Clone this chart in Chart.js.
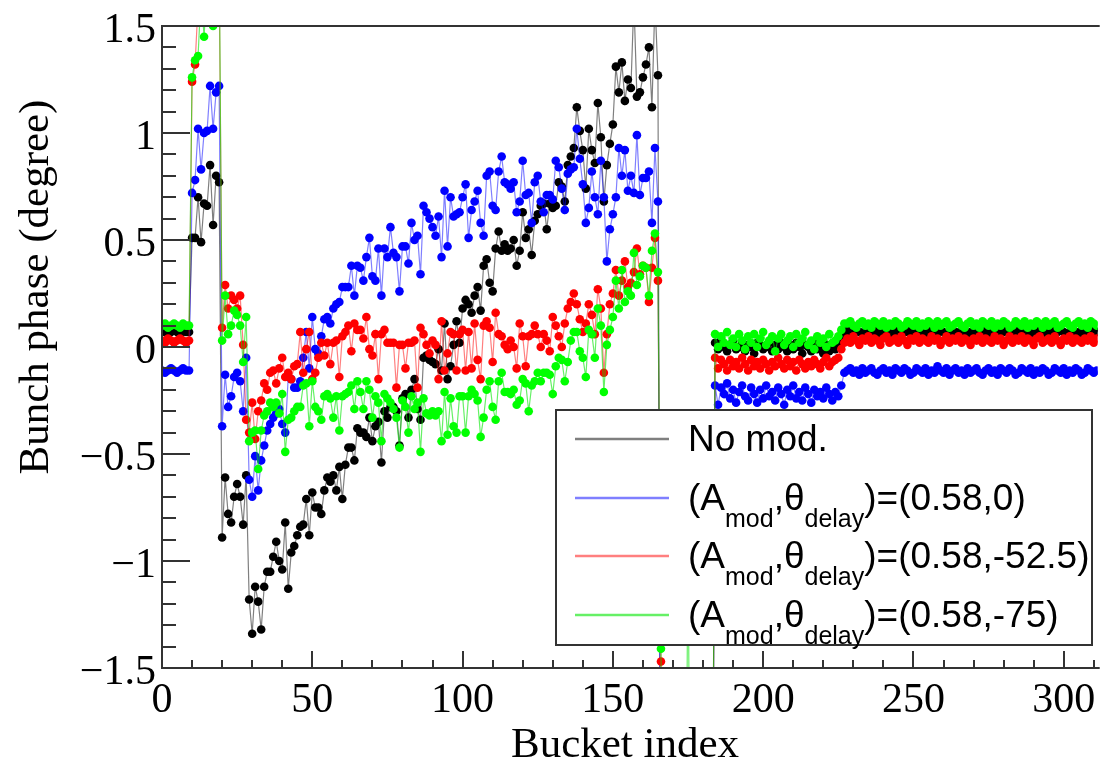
<!DOCTYPE html>
<html>
<head>
<meta charset="utf-8">
<title>Bunch phase</title>
<script src="https://cdn.jsdelivr.net/npm/chart.js@4.4.0/dist/chart.umd.min.js"></script>
<style>
  html, body { margin: 0; padding: 0; background: #fff; }
</style>
</head>
<body>
<canvas id="phase" width="1102" height="765"></canvas>
<script>
// bunch phase per bucket (array index = bucket index)
// null = empty bucket, -3 = below the frame (off scale)
var noMod = [
  0.07,0.08,0.06,0.07,0.08,0.07,0.06,0.08,0.07,0.07,
  0.51,0.51,0.70,0.49,0.67,0.66,0.85,0.57,0.80,0.77,
  -0.89,-0.61,-0.78,-0.82,-0.70,-0.64,-0.70,-0.83,-0.60,-1.18,
  -1.34,-1.12,-1.19,-1.32,-1.12,-1.05,-1.05,-0.98,-0.91,-1.00,
  -1.04,-0.82,-1.13,-0.96,-0.93,-0.88,-0.84,-0.83,-0.71,-0.88,
  -0.68,-0.75,-0.75,-0.78,-0.67,-0.61,-0.63,-0.60,-0.67,-0.56,
  -0.71,-0.55,-0.47,-0.47,-0.53,-0.38,-0.40,-0.40,-0.42,-0.33,
  -0.44,-0.37,-0.35,-0.54,-0.30,-0.33,-0.28,-0.28,-0.30,-0.46,
  -0.24,-0.22,-0.33,-0.20,-0.15,-0.29,-0.34,-0.05,-0.04,-0.06,
  -0.07,-0.08,-0.01,-0.11,0.11,-0.15,-0.09,0.01,0.12,0.02,
  0.18,0.22,0.20,0.16,0.24,0.28,0.17,0.38,0.41,0.30,
  0.26,0.46,0.54,0.45,0.48,0.45,0.46,0.50,0.38,0.45,
  0.63,0.51,0.55,0.43,0.59,0.62,0.66,0.67,0.55,0.67,
  0.65,0.66,0.77,0.75,0.68,0.85,0.89,0.93,1.12,1.01,
  0.92,0.74,1.02,0.92,0.86,1.14,0.98,0.68,0.85,0.95,
  1.04,1.31,1.19,1.33,1.15,1.25,1.21,1.62,1.17,1.19,
  1.26,1.32,1.40,1.12,1.62,1.27,-3,null,null,null,
  null,null,null,null,null,null,null,null,null,null,
  null,null,null,-3,0.02,-0.01,0.03,0.00,-0.02,0.01,
  0.03,-0.01,0.00,0.02,-0.02,0.01,0.00,-0.03,0.02,0.01,
  -0.01,0.00,0.02,-0.02,0.01,-0.01,0.02,0.00,-0.02,0.01,
  -0.01,0.02,0.00,-0.03,0.01,0.00,-0.02,0.02,-0.01,0.00,
  -0.03,0.01,-0.02,0.00,-0.01,0.01,0.04,0.07,0.08,0.07,
  0.06,0.08,0.07,0.06,0.08,0.07,0.06,0.07,0.08,0.06,
  0.07,0.08,0.07,0.06,0.07,0.08,0.06,0.07,0.07,0.08,
  0.06,0.07,0.08,0.07,0.06,0.08,0.07,0.07,0.06,0.08,
  0.07,0.06,0.07,0.08,0.07,0.06,0.08,0.07,0.06,0.07,
  0.08,0.07,0.06,0.07,0.08,0.06,0.07,0.08,0.07,0.06,
  0.07,0.08,0.07,0.06,0.07,0.08,0.07,0.06,0.08,0.07,
  0.06,0.07,0.08,0.07,0.06,0.07,0.08,0.06,0.07,0.08,
  0.07,0.06,0.07,0.08,0.07,0.06,0.08,0.07,0.06,0.07,
  0.08,0.07
];

var mod0 = [
  -0.11,-0.12,-0.11,-0.10,-0.11,-0.12,-0.11,-0.10,-0.11,-0.11,
  0.72,0.78,1.02,0.83,1.00,1.01,1.22,1.02,1.19,1.22,
  -0.37,-0.13,-0.28,-0.23,-0.14,-0.12,-0.16,-0.30,-0.05,-0.62,
  -0.70,-0.51,-0.67,-0.53,-0.46,-0.39,-0.36,-0.33,-0.31,-0.29,
  -0.36,-0.40,-0.14,-0.15,-0.19,-0.19,-0.16,-0.05,0.07,-0.10,
  0.14,-0.01,-0.03,0.05,0.13,0.14,0.11,0.18,0.20,0.21,
  0.28,0.28,0.28,0.38,0.24,0.38,0.37,0.31,0.42,0.51,
  0.33,0.31,0.46,0.24,0.46,0.42,0.56,0.44,0.42,0.26,
  0.47,0.47,0.39,0.58,0.50,0.52,0.34,0.66,0.63,0.60,
  0.56,0.52,0.61,0.42,0.73,0.47,0.70,0.61,0.62,0.63,
  0.70,0.76,0.51,0.64,0.68,0.73,0.58,0.52,0.80,0.82,
  0.66,0.64,0.82,0.89,0.77,0.76,0.74,0.77,0.63,0.68,
  0.87,0.71,0.72,0.58,0.77,0.80,0.68,0.63,0.71,0.71,
  0.69,0.87,0.84,0.74,0.64,0.81,0.83,0.84,1.02,0.88,
  0.76,0.58,0.65,0.82,0.70,0.62,0.87,0.70,0.40,0.55,
  0.62,0.70,0.93,0.80,0.92,0.73,0.80,0.72,0.99,0.71,
  0.79,0.79,0.82,0.58,0.93,0.68,-3,null,null,null,
  null,null,null,null,null,null,null,null,null,null,
  null,null,null,-3,-0.18,-0.27,-0.19,-0.22,-0.17,-0.24,
  -0.20,-0.26,-0.21,-0.18,-0.23,-0.25,-0.19,-0.22,-0.26,-0.20,
  -0.24,-0.18,-0.23,-0.21,-0.25,-0.19,-0.22,-0.27,-0.20,-0.23,
  -0.18,-0.24,-0.21,-0.25,-0.19,-0.22,-0.26,-0.20,-0.23,-0.21,
  -0.24,-0.19,-0.22,-0.25,-0.21,-0.23,-0.18,-0.12,-0.11,-0.10,
  -0.12,-0.11,-0.13,-0.10,-0.12,-0.11,-0.10,-0.12,-0.13,-0.11,
  -0.10,-0.12,-0.11,-0.13,-0.10,-0.11,-0.12,-0.10,-0.11,-0.13,
  -0.12,-0.10,-0.11,-0.12,-0.10,-0.13,-0.11,-0.12,-0.09,-0.11,
  -0.12,-0.10,-0.13,-0.11,-0.10,-0.12,-0.11,-0.13,-0.10,-0.12,
  -0.11,-0.10,-0.12,-0.13,-0.11,-0.10,-0.12,-0.11,-0.13,-0.10,
  -0.11,-0.12,-0.10,-0.11,-0.13,-0.12,-0.10,-0.11,-0.12,-0.10,
  -0.13,-0.11,-0.12,-0.10,-0.11,-0.13,-0.12,-0.10,-0.11,-0.12,
  -0.10,-0.13,-0.11,-0.12,-0.10,-0.11,-0.13,-0.12,-0.10,-0.11,
  -0.12,-0.11
];

var mod525 = [
  0.03,0.02,0.04,0.03,0.02,0.03,0.04,0.03,0.02,0.03,
  1.24,1.32,1.60,1.70,1.80,1.70,1.80,1.60,1.70,1.80,
  0.09,0.29,0.18,0.24,0.22,0.18,0.24,0.01,-0.34,-0.40,
  -0.26,-0.43,-0.30,-0.25,-0.17,-0.20,-0.12,-0.11,-0.17,-0.10,
  -0.05,-0.14,-0.12,-0.15,-0.09,-0.08,0.07,-0.12,-0.01,0.07,
  -0.15,-0.12,-0.05,0.02,-0.04,0.02,-0.08,0.02,0.03,-0.14,
  0.05,0.07,0.10,-0.02,0.11,0.08,0.08,0.04,0.14,-0.01,
  -0.04,0.06,-0.15,0.06,0.08,0.02,0.02,0.02,-0.19,0.01,
  0.01,-0.10,0.02,0.02,0.03,-0.19,0.09,0.06,0.01,-0.03,
  0.03,0.01,-0.15,0.12,-0.11,-0.03,0.07,0.06,-0.11,0.06,
  0.08,-0.11,0.07,-0.10,0.11,-0.06,-0.15,0.10,0.12,0.09,
  -0.07,0.16,0.06,0.05,0.01,-0.01,0.03,0.00,-0.10,0.11,
  0.05,-0.09,0.05,0.06,0.10,0.06,0.00,0.06,0.03,-0.02,
  0.14,0.10,0.05,0.00,0.11,0.18,0.21,0.25,0.20,0.13,
  0.07,0.11,0.20,0.15,0.06,0.27,0.18,-0.12,0.06,0.20,
  0.25,0.36,0.24,0.31,0.40,0.28,0.30,0.35,0.46,0.34,
  0.38,0.37,0.21,0.37,0.51,0.31,-1.47,-3,null,null,
  null,null,null,null,null,null,null,null,null,null,
  null,null,null,-3,-0.05,-0.10,-0.06,-0.08,-0.11,-0.06,
  -0.09,-0.07,-0.10,-0.05,-0.08,-0.11,-0.06,-0.09,-0.07,-0.10,
  -0.06,-0.08,-0.11,-0.07,-0.09,-0.05,-0.08,-0.10,-0.06,-0.09,
  -0.07,-0.11,-0.06,-0.08,-0.10,-0.07,-0.09,-0.06,-0.08,-0.10,
  -0.07,-0.05,-0.09,-0.07,-0.06,-0.05,-0.01,0.02,0.04,0.02,
  0.05,0.03,0.01,0.04,0.03,0.05,0.02,0.04,0.03,0.01,
  0.04,0.05,0.02,0.03,0.04,0.02,0.05,0.03,0.01,0.04,
  0.03,0.05,0.02,0.04,0.03,0.02,0.05,0.03,0.04,0.01,
  0.03,0.05,0.02,0.04,0.03,0.05,0.02,0.04,0.03,0.01,
  0.04,0.03,0.05,0.02,0.04,0.03,0.02,0.05,0.03,0.04,
  0.01,0.03,0.05,0.02,0.04,0.03,0.05,0.02,0.04,0.03,
  0.01,0.04,0.05,0.02,0.03,0.04,0.02,0.05,0.03,0.01,
  0.04,0.03,0.05,0.02,0.04,0.03,0.02,0.04,0.03,0.05,
  0.02,0.04
];

var mod75 = [
  0.10,0.11,0.09,0.10,0.11,0.10,0.09,0.11,0.10,0.10,
  1.26,1.34,1.36,1.65,1.45,1.70,1.80,1.50,1.80,1.90,
  0.03,0.24,0.06,0.10,0.17,0.15,0.10,-0.07,0.14,-0.44,
  -0.40,-0.39,-0.57,-0.39,-0.32,-0.30,-0.26,-0.28,-0.26,-0.31,
  -0.22,-0.49,-0.34,-0.33,-0.30,-0.28,-0.28,-0.18,-0.17,-0.37,
  -0.16,-0.28,-0.30,-0.34,-0.23,-0.22,-0.24,-0.33,-0.23,-0.39,
  -0.23,-0.22,-0.21,-0.18,-0.29,-0.16,-0.21,-0.29,-0.16,-0.20,
  -0.33,-0.23,-0.26,-0.44,-0.22,-0.24,-0.26,-0.29,-0.33,-0.47,
  -0.25,-0.28,-0.40,-0.23,-0.29,-0.26,-0.49,-0.24,-0.31,-0.32,
  -0.30,-0.32,-0.30,-0.44,-0.21,-0.41,-0.24,-0.37,-0.40,-0.23,
  -0.23,-0.40,-0.23,-0.20,-0.22,-0.25,-0.42,-0.33,-0.20,-0.16,
  -0.28,-0.34,-0.16,-0.12,-0.21,-0.21,-0.22,-0.20,-0.27,-0.25,
  -0.15,-0.17,-0.30,-0.18,-0.16,-0.12,-0.16,-0.12,-0.12,-0.13,
  -0.22,-0.09,-0.05,-0.06,-0.16,-0.07,0.03,0.07,0.07,-0.02,
  -0.05,-0.14,0.08,0.06,-0.05,0.18,0.10,-0.21,0.01,0.08,
  0.14,0.31,0.18,0.36,0.21,0.26,0.24,0.44,0.29,0.33,
  0.38,0.37,0.24,0.45,0.53,0.35,-1.41,-3,null,null,
  null,null,null,null,-3,-0.9,-3,null,null,null,
  null,null,null,-3,0.06,0.00,0.05,0.02,0.07,0.01,
  0.04,0.00,0.06,0.03,-0.01,0.05,0.02,0.06,0.00,0.04,
  0.07,0.01,0.03,0.05,-0.02,0.04,0.06,0.01,0.03,0.05,
  0.00,0.06,0.02,0.04,0.07,0.01,0.03,-0.01,0.05,0.02,
  0.04,0.00,0.06,0.02,0.03,0.05,0.08,0.11,0.11,0.12,
  0.10,0.09,0.11,0.12,0.10,0.11,0.09,0.12,0.11,0.10,
  0.12,0.09,0.11,0.10,0.12,0.11,0.09,0.10,0.12,0.11,
  0.10,0.12,0.09,0.11,0.10,0.12,0.11,0.09,0.12,0.10,
  0.11,0.12,0.09,0.10,0.11,0.12,0.10,0.09,0.11,0.12,
  0.10,0.11,0.09,0.12,0.11,0.10,0.12,0.09,0.11,0.10,
  0.12,0.11,0.09,0.10,0.12,0.11,0.10,0.12,0.09,0.11,
  0.10,0.12,0.11,0.09,0.12,0.10,0.11,0.12,0.09,0.10,
  0.11,0.12,0.10,0.09,0.11,0.12,0.10,0.11,0.09,0.12,
  0.11,0.10
];

var seriesLabels = [
  "No mod.",
  "(A_{mod},\u03b8_{delay})=(0.58,0)",
  "(A_{mod},\u03b8_{delay})=(0.58,-52.5)",
  "(A_{mod},\u03b8_{delay})=(0.58,-75)"
];
var pointColors = ["#000000", "#0000ff", "#ff0000", "#00ff00"];
var lineColors = ["rgba(0,0,0,0.5)", "rgba(0,0,255,0.5)", "rgba(255,0,0,0.5)", "rgba(0,230,0,0.6)"];

var xTicks = [0, 50, 100, 150, 200, 250, 300];
var yTicks = [-1.5, -1, -0.5, 0, 0.5, 1, 1.5];
var yTickLabels = ["\u22121.5", "\u22121", "\u22120.5", "0", "0.5", "1", "1.5"];

function toPoints(vals) {
  return vals.map(function (v, i) { return { x: i, y: v }; });
}

var allSeries = [noMod, mod0, mod525, mod75];

var datasets = allSeries.map(function (vals, k) {
  return {
    label: seriesLabels[k],
    data: toPoints(vals),
    borderColor: lineColors[k],
    backgroundColor: pointColors[k],
    pointBackgroundColor: pointColors[k],
    pointBorderWidth: 0,
    pointRadius: 4.3,
    borderWidth: 1.2,
    tension: 0,
    spanGaps: false,
    order: 4 - k
  };
});

var serif = "'Liberation Serif', 'Times New Roman', serif";
var sans = "'Liberation Sans', Arial, sans-serif";

function drawRich(ctx, text, x, y) {
  var parts = text.split(/_\{([^}]*)\}/);
  parts.forEach(function (p, i) {
    var sub = i % 2 === 1;
    ctx.font = (sub ? "25px " : "37px ") + sans;
    ctx.fillText(p, x, sub ? y + 17 : y);
    x += ctx.measureText(p).width;
  });
}

// ROOT style frame, inside ticks, labels and boxed legend
var rootFrame = {
  id: "rootFrame",
  afterDraw: function (chart) {
    var ctx = chart.ctx;
    var a = chart.chartArea;
    var xs = chart.scales.x;
    var ys = chart.scales.y;
    ctx.save();
    ctx.strokeStyle = "#333";
    ctx.lineWidth = 2;
    ctx.beginPath();
    ctx.moveTo(a.right + 2, a.top);
    ctx.lineTo(a.left, a.top);
    ctx.lineTo(a.left, a.bottom);
    ctx.lineTo(a.right + 2, a.bottom);
    ctx.stroke();

    ctx.beginPath();
    for (var i = -15; i <= 15; i++) {
      var py = Math.round(ys.getPixelForValue(i / 10));
      ctx.moveTo(a.left, py);
      ctx.lineTo(a.left + (i % 5 === 0 ? 28 : 14), py);
    }
    for (var b = 0; b <= 310; b += 10) {
      var px = Math.round(xs.getPixelForValue(b));
      ctx.moveTo(px, a.bottom);
      ctx.lineTo(px, a.bottom - (b % 50 === 0 ? 17 : 8));
    }
    ctx.stroke();

    ctx.fillStyle = "#000";
    ctx.font = "42px " + serif;
    ctx.textAlign = "right";
    ctx.textBaseline = "alphabetic";
    yTicks.forEach(function (v, k) {
      ctx.fillText(yTickLabels[k], a.left - 6, ys.getPixelForValue(v) + 16);
    });
    ctx.textAlign = "center";
    xTicks.forEach(function (v) {
      ctx.fillText(String(v), xs.getPixelForValue(v), a.bottom + 44);
    });

    ctx.font = "43px " + serif;
    ctx.fillText("Bucket index", 625, 757);
    ctx.save();
    ctx.translate(48, 287);
    ctx.rotate(-Math.PI / 2);
    ctx.fillText("Bunch phase (degree)", 0, 0);
    ctx.restore();

    // legend box
    var lx = 556, ly = 410, lw = 536, lh = 235;
    ctx.fillStyle = "#fff";
    ctx.fillRect(lx, ly, lw, lh);
    ctx.strokeStyle = "#333";
    ctx.lineWidth = 2;
    ctx.strokeRect(lx, ly, lw, lh);
    ctx.textAlign = "left";
    var rowY = [439, 498, 556, 615];
    seriesLabels.forEach(function (lab, k) {
      ctx.strokeStyle = lineColors[k];
      ctx.lineWidth = 2.5;
      ctx.beginPath();
      ctx.moveTo(575, rowY[k]);
      ctx.lineTo(669, rowY[k]);
      ctx.stroke();
      ctx.fillStyle = "#000";
      drawRich(ctx, lab, 688, rowY[k] + 12);
    });
    ctx.restore();
  }
};

new Chart(document.getElementById("phase").getContext("2d"), {
  type: "line",
  data: { datasets: datasets },
  options: {
    responsive: false,
    devicePixelRatio: 1,
    animation: false,
    layout: { padding: { left: 162, top: 26, right: 0, bottom: 97 } },
    scales: {
      x: { type: "linear", min: 0, max: 311.3, display: false },
      y: { type: "linear", min: -1.5, max: 1.5, display: false }
    },
    plugins: {
      legend: { display: false },
      tooltip: { enabled: false }
    }
  },
  plugins: [rootFrame]
});
</script>
</body>
</html>
